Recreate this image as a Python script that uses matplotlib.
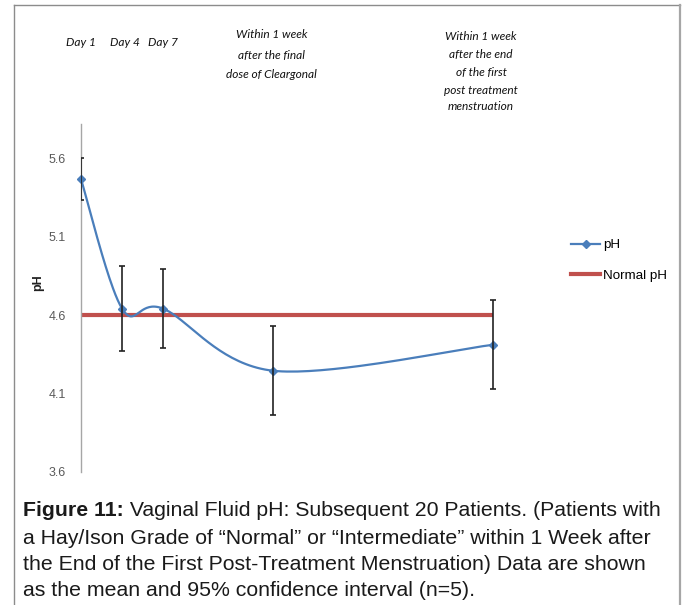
import numpy as np
import matplotlib

matplotlib.use('Agg')
import matplotlib.pyplot as plt
from matplotlib.lines import Line2D

# data
days = [1, 4, 7, 15, 31]
ph_mean = [5.465, 4.64, 4.64, 4.245, 4.41]
ph_ci = [0.135, 0.27, 0.253, 0.285, 0.284]
normal_ph = [4.6, 4.6, 4.6, 4.6, 4.6]
y_ticks = [3.6, 4.1, 4.6, 5.1, 5.6]

top_notes = [
    ('Day 1', 80.5, [42]),
    ('Day 4', 124.5, [42]),
    ('Day 7', 162.5, [42]),
    ('Within 1 week\nafter the final\ndose of Cleargonal', 271.5, [35, 55, 74.5]),
    ('Within 1 week\nafter the end\nof the first\npost treatment\nmenstruation', 481, [36.5, 54.5, 72.5, 90, 107]),
]

caption_bold = 'Figure 11:'
caption_lines = [
    ' Vaginal Fluid pH: Subsequent 20 Patients. (Patients with',
    'a Hay/Ison Grade of \u201cNormal\u201d or \u201cIntermediate\u201d within 1 Week after',
    'the End of the First Post-Treatment Menstruation) Data are shown',
    'as the mean and 95% confidence interval (n=5).',
]

W, H = 686, 605
BLUE = '#4A7EBB'
RED = '#C0504D'


def fx(px):
    return px / W


def fy(py):
    return 1 - py / H


def excel_smooth(x, y, n=40):
    # bezier smoothing like Excel's "smoothed line"
    pts = np.column_stack([x, y]).astype(float)
    ext = np.vstack([pts[0], pts, pts[-1]])
    t = np.linspace(0, 1, n)[:, None]
    segs = []
    for i in range(len(pts) - 1):
        p0, p1, p2, p3 = ext[i], ext[i + 1], ext[i + 2], ext[i + 3]
        c1 = p1 + (p2 - p0) / 6
        c2 = p2 - (p3 - p1) / 6
        segs.append((1 - t) ** 3 * p1 + 3 * (1 - t) ** 2 * t * c1 + 3 * (1 - t) * t ** 2 * c2 + t ** 3 * p2)
    out = np.vstack(segs)
    return out[:, 0], out[:, 1]


fig = plt.figure(figsize=(W / 100, H / 100), dpi=100)

# outer frame (open at the bottom)
fig.add_artist(Line2D([fx(14), fx(14)], [fy(5), 0], color='#8c8c8c', lw=1.0))
fig.add_artist(Line2D([fx(14), fx(680)], [fy(5), fy(5)], color='#8c8c8c', lw=1.0))
fig.add_artist(Line2D([fx(680), fx(680)], [fy(5), 0], color='#a6a6a6', lw=1.6))

ax_left, ax_right, ax_top, ax_bottom = 81, 545, 124, 472
ax = fig.add_axes([fx(ax_left), fy(ax_bottom), fx(ax_right - ax_left), (ax_bottom - ax_top) / H])

px_per_day = 13.72
ax.set_xlim(1, 1 + (ax_right - ax_left) / px_per_day)
ax.set_ylim(3.6, 5.6 + (158 - ax_top) / 157)

ax.plot(days, normal_ph, color=RED, lw=3.0, solid_capstyle='butt', zorder=2, label='Normal pH')

sx, sy = excel_smooth(days, ph_mean)
ax.plot(sx, sy, color=BLUE, lw=1.6, zorder=3)
ax.plot(days, ph_mean, 'D', color=BLUE, ms=4.5, zorder=4, clip_on=False)
ax.errorbar(days, ph_mean, yerr=ph_ci, fmt='none', ecolor='#222222', elinewidth=1.2,
            capsize=2.5, capthick=1.2, zorder=5)

for side in ['top', 'right', 'bottom']:
    ax.spines[side].set_visible(False)
ax.spines['left'].set_color('#a6a6a6')
ax.spines['left'].set_linewidth(1.0)
ax.set_xticks([])
ax.set_yticks(y_ticks)
ax.set_yticklabels([f'{v:.1f}' for v in y_ticks], fontsize=9, color='#595959', family='Liberation Sans')
ax.tick_params(axis='y', length=0, pad=11)
ax.set_ylabel('pH', fontsize=9, fontweight='bold', family='Liberation Sans', color='#222222')
ax.yaxis.set_label_coords(-0.08, (ax_bottom - 283) / (ax_bottom - ax_top))

legend_handles = [
    Line2D([], [], color=BLUE, lw=1.6, marker='D', ms=4.5, markevery=[1], label='pH'),
    Line2D([], [], color=RED, lw=3.0, label='Normal pH'),
]
ax.legend(handles=legend_handles, loc='upper left', bbox_to_anchor=(fx(571), fy(239)),
          bbox_transform=fig.transFigure, frameon=False, borderpad=0, borderaxespad=0,
          handlelength=2.2, handletextpad=0.2, labelspacing=1.35,
          prop={'family': 'Liberation Sans', 'size': 9.6})

for text, cx, ys in top_notes:
    for line, yy in zip(text.split('\n'), ys):
        fig.text(fx(cx), fy(yy), line, ha='center', va='center', fontsize=8.6,
                 style='italic', family='Lato', color='#111111')

# caption
cap_size = 15.3
line_ys = [511, 538, 564, 590]
renderer = fig.canvas.get_renderer()
bold = fig.text(fx(23), fy(line_ys[0]), caption_bold, ha='left', va='center', fontsize=cap_size,
                fontweight='bold', family='Liberation Sans', color='#1a1a1a')
bw = bold.get_window_extent(renderer).width
fig.text(fx(23 + bw), fy(line_ys[0]), caption_lines[0], ha='left', va='center', fontsize=cap_size,
         family='Liberation Sans', color='#1a1a1a')
for line, yy in zip(caption_lines[1:], line_ys[1:]):
    fig.text(fx(23), fy(yy), line, ha='left', va='center', fontsize=cap_size,
             family='Liberation Sans', color='#1a1a1a')

fig.savefig('out.png', dpi=100)
